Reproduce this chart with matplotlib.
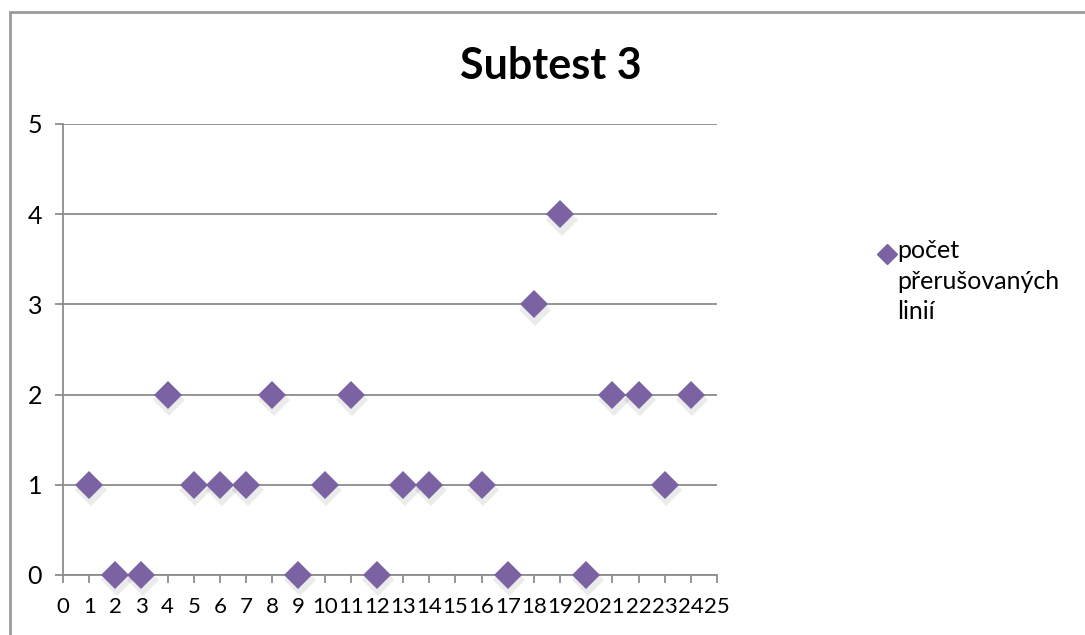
import matplotlib
matplotlib.use("Agg")
import matplotlib.pyplot as plt
from matplotlib.lines import Line2D
from matplotlib.patches import Rectangle

# subtest 3 - pocet prerusovanych linii podle cisla zaka
zaci = [1, 2, 3, 4, 5, 6, 7, 8, 9, 10, 11, 12, 13, 14, 16, 17, 18, 19, 20, 21, 22, 23, 24]
pocet = [1, 0, 0, 2, 1, 1, 1, 2, 0, 1, 2, 0, 1, 1, 1, 0, 3, 4, 0, 2, 2, 1, 2]
x_ticks = list(range(0, 26))
y_ticks = [0, 1, 2, 3, 4, 5]
nazev = "Subtest 3"
popisek = "počet\npřerušovaných\nlinií"

barva = "#7B62A3"
seda = "#8C8C8C"

plt.rcParams['font.family'] = ['Lato', 'DejaVu Sans']

fig = plt.figure(figsize=(10.85, 6.35), dpi=100)
ax = fig.add_axes([63 / 1085, 1 - 575 / 635, 654 / 1085, 451 / 635])

# ramecek grafu (jen levy a horni okraj je videt)
fig.patches.append(Rectangle((10 / 1085, -0.1), 1.2, 1 - 12 / 635 + 0.1,
                             transform=fig.transFigure, fill=False,
                             edgecolor="#9A9A9A", linewidth=2, zorder=0))

# stin pod body
ax.plot([z + 0.06 for z in zaci], [p - 0.06 for p in pocet], linestyle="none",
        marker="D", markersize=16, color="#000000", alpha=0.08,
        markeredgewidth=0, zorder=2, clip_on=False)
ax.plot(zaci, pocet, linestyle="none", marker="D", markersize=14.5,
        color=barva, markeredgewidth=0, zorder=3, clip_on=False)

ax.set_xlim(0, 25)
ax.set_ylim(0, 5)
ax.set_xticks(x_ticks)
ax.set_yticks(y_ticks)
ax.set_xticklabels([str(t) for t in x_ticks], fontsize=16)
ax.set_yticklabels([str(t) for t in y_ticks], fontsize=18)
ax.tick_params(axis="both", direction="out", length=6, width=1.3, color=seda,
               labelcolor="black")
ax.tick_params(axis="x", pad=10)
ax.tick_params(axis="y", pad=9)

ax.yaxis.grid(True, color=seda, linewidth=1.3)
ax.set_axisbelow(True)
for s in ["top", "right"]:
    ax.spines[s].set_visible(False)
for s in ["left", "bottom"]:
    ax.spines[s].set_color(seda)
    ax.spines[s].set_linewidth(1.3)

fig.text(551 / 1085, 1 - 66 / 635, nazev, fontsize=31, fontweight="bold",
         ha="center", va="center")

# legenda
fig.add_artist(Line2D([887 / 1085], [1 - 254 / 635], transform=fig.transFigure,
                      marker="D", markersize=10, color=barva, linestyle="none"))
fig.text(897 / 1085, 1 - 239 / 635, popisek, fontsize=18, ha="left", va="top",
         linespacing=1.4)

fig.savefig("out.png", dpi=100)
